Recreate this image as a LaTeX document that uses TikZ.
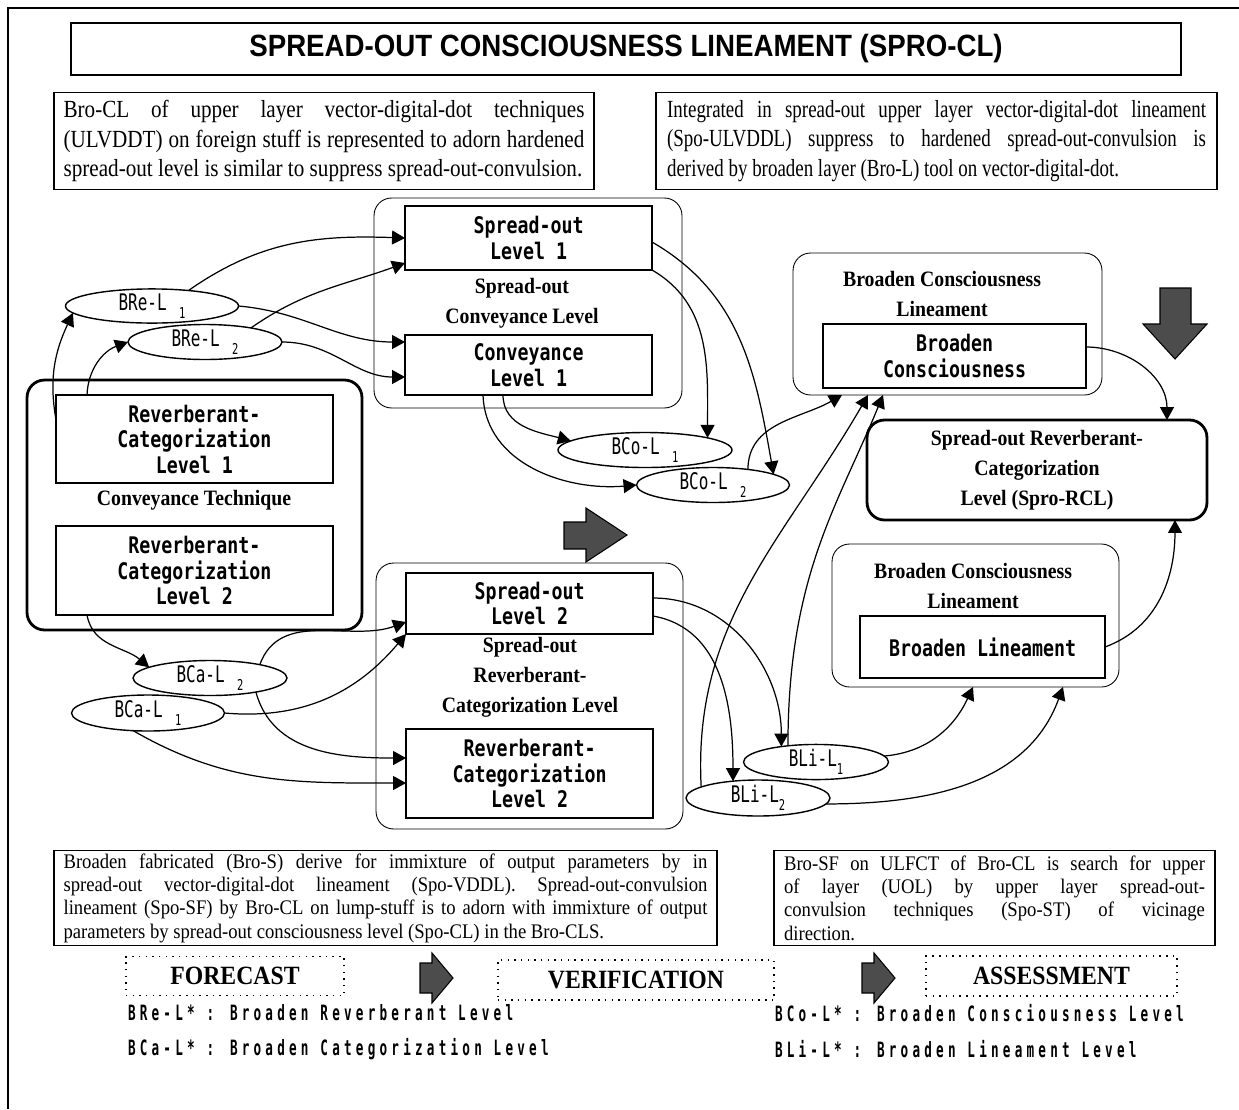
\documentclass[tikz,border=0pt]{standalone}
\usepackage{fontspec}
\setmainfont{Liberation Serif}
\newfontfamily\titlefont[FakeStretch=0.9]{Liberation Sans}
\newfontfamily\leftnotefont[FakeStretch=0.86]{Liberation Serif}
\newfontfamily\rightnotefont[FakeStretch=0.77]{Liberation Serif}
\newfontfamily\lownotefont[FakeStretch=0.9]{Liberation Serif}
\newfontfamily\grpfont[FakeStretch=0.9]{Liberation Serif}
\newfontfamily\boxfont[FakeStretch=0.8]{DejaVu Sans Mono}
\newfontfamily\ellfont[FakeStretch=0.7]{DejaVu Sans Mono}
\newfontfamily\legfont[FakeStretch=0.6,LetterSpace=20]{DejaVu Sans Mono}
\usetikzlibrary{arrows.meta,shapes.geometric}
\newcommand\lowidx[1]{\raisebox{-0.6ex}{\fontsize{8.5}{8.5}\selectfont #1}}

\begin{document}
\begin{tikzpicture}[x=0.02cm,y=-0.02cm,
  every node/.style={inner sep=0pt, outer sep=0pt},
  box/.style={draw, line width=0.8pt, align=center, font=\boxfont\bfseries\fontsize{13}{14.5}\selectfont},
  grp/.style={draw, rounded corners=0.35cm, line width=0.5pt},
  grpthick/.style={draw, rounded corners=0.35cm, line width=1.6pt},
  grplabel/.style={align=center, font=\grpfont\bfseries\fontsize{12.5}{17}\selectfont},
  bubble/.style={draw, ellipse, line width=0.8pt, font=\ellfont\fontsize{13}{13}\selectfont},
  note/.style={draw, line width=0.8pt, align=justify},
  stage/.style={draw, line width=0.8pt, dash pattern=on 0.8pt off 3pt, font=\grpfont\bfseries\fontsize{15}{15}\selectfont},
  legend/.style={anchor=west, font=\legfont\bfseries\fontsize{12}{12}\selectfont},
  flow/.style={-{Triangle[length=0.26cm,width=0.28cm]}, line width=0.7pt},
  bigarrow/.style={draw, fill=black!70, line width=0.6pt}
  ]
  \useasboundingbox (0,0) rectangle (1239,1109);
  \draw [line width=0.8pt] (1239,8) -- (8,8) -- (8,1109);

  % heading and notes
  \node [draw, line width=0.8pt, minimum width=22.2cm, minimum height=1.04cm,
    font=\titlefont\bfseries\fontsize{17.5}{17.5}\selectfont] (title) at (626,49)
    {SPREAD-OUT CONSCIOUSNESS LINEAMENT (SPRO-CL)};
  \node [note, font=\leftnotefont\fontsize{14}{16.8}\selectfont,
    minimum width=10.8cm, minimum height=1.94cm, text width=10.42cm] (noteTL) at (324,141) {%
    \makebox[10.42cm][s]{Bro-CL of upper layer vector-digital-dot techniques}\\
    \makebox[10.42cm][s]{(ULVDDT) on foreign stuff is represented to adorn hardened}\\
    spread-out level is similar to suppress spread-out-convulsion.};
  \node [note, font=\rightnotefont\fontsize{14}{16.8}\selectfont,
    minimum width=11.22cm, minimum height=1.94cm, text width=10.78cm] (noteTR) at (936.5,141) {%
    \makebox[10.78cm][s]{Integrated in spread-out upper layer vector-digital-dot lineament}\\
    \makebox[10.78cm][s]{(Spo-ULVDDL) suppress to hardened spread-out-convulsion is}\\
    derived by broaden layer (Bro-L) tool on vector-digital-dot.};

  % groups
  \node [grp, minimum width=6.16cm, minimum height=4.2cm] (grpCL) at (528,303) {};
  \node [grpthick, minimum width=6.7cm, minimum height=5.0cm] (grpCT) at (194.5,505) {};
  \node [grp, minimum width=6.14cm, minimum height=5.32cm] (grpRC) at (529.5,696) {};
  \node [grp, minimum width=6.18cm, minimum height=2.84cm] (grpBC) at (947.5,324) {};
  \node [grp, minimum width=5.74cm, minimum height=2.86cm] (grpBL) at (975.5,615.5) {};
  \node [grpthick, grplabel, minimum width=6.8cm, minimum height=2.0cm] (spro) at (1037,470)
    {Spread-out Reverberant-\\Categorization\\Level (Spro-RCL)};

  \node [grplabel] (lblCL) at (522,303) {Spread-out\\Conveyance Level};
  \node [grplabel] (lblCT) at (194,500) {Conveyance Technique};
  \node [grplabel] (lblRC) at (530,677) {Spread-out\\Reverberant-\\Categorization Level};
  \node [grplabel] (lblBC) at (942,294) {Broaden Consciousness\\Lineament};
  \node [grplabel] (lblBL) at (973,586) {Broaden Consciousness\\Lineament};

  % level boxes
  \node [box, minimum width=4.94cm, minimum height=1.28cm] (sol1) at (528.5,238) {Spread-out\\Level 1};
  \node [box, minimum width=4.94cm, minimum height=1.2cm] (cvl1) at (528.5,365) {Conveyance\\Level 1};
  \node [box, minimum width=5.54cm, minimum height=1.76cm] (rcl1) at (194.5,439) {Reverberant-\\Categorization\\Level 1};
  \node [box, minimum width=5.54cm, minimum height=1.78cm] (rcl2a) at (194.5,570.5) {Reverberant-\\Categorization\\Level 2};
  \node [box, minimum width=4.94cm, minimum height=1.22cm] (sol2) at (529.5,603.5) {Spread-out\\Level 2};
  \node [box, minimum width=4.94cm, minimum height=1.78cm] (rcl2b) at (529.5,773.5) {Reverberant-\\Categorization\\Level 2};
  \node [box, minimum width=5.26cm, minimum height=1.28cm] (bcon) at (954.5,356) {Broaden\\Consciousness};
  \node [box, minimum width=4.9cm, minimum height=1.24cm] (blin) at (982.5,647) {Broaden Lineament};

  % broaden levels
  \node [bubble, minimum width=3.46cm, minimum height=0.66cm] (bre1) at (152,306) {BRe-L\hspace{0.25cm}\lowidx{1}};
  \node [bubble, minimum width=3.08cm, minimum height=0.7cm] (bre2) at (205,342) {BRe-L\hspace{0.25cm}\lowidx{2}};
  \node [bubble, minimum width=3.48cm, minimum height=0.7cm] (bco1) at (645,450) {BCo-L\hspace{0.25cm}\lowidx{1}};
  \node [bubble, minimum width=3.06cm, minimum height=0.7cm] (bco2) at (713,485) {BCo-L\hspace{0.25cm}\lowidx{2}};
  \node [bubble, minimum width=3.08cm, minimum height=0.7cm] (bca2) at (210,678) {BCa-L\hspace{0.25cm}\lowidx{2}};
  \node [bubble, minimum width=3.06cm, minimum height=0.72cm] (bca1) at (148,713) {BCa-L\hspace{0.25cm}\lowidx{1}};
  \node [bubble, minimum width=2.9cm, minimum height=0.7cm] (bli1) at (816,762) {BLi-L\lowidx{1}};
  \node [bubble, minimum width=2.88cm, minimum height=0.72cm] (bli2) at (758,798) {BLi-L\lowidx{2}};

  % connectors
  \draw [flow] (bre1.23) to[out=35,in=178] (sol1.west);
  \draw [flow] (bre2.17) to[out=35,in=200] ([yshift=-0.5cm]sol1.west);
  \draw [flow] (bre1.east) to[out=-5,in=180] ([yshift=0.46cm]cvl1.west);
  \draw [flow] (bre2.east) to[out=0,in=180] ([yshift=-0.24cm]cvl1.west);
  \draw [flow] ([yshift=0.38cm]rcl1.west) to[out=100,in=245] (bre1.185);
  \draw [flow] ([xshift=0.62cm]rcl1.north west) to[out=88,in=200] (bre2.west);
  \draw [flow] ([xshift=-2.15cm]rcl2a.south) to[out=-80,in=140] (bca2.170);
  \draw [flow] (bca2.15) to[out=70,in=200] ([yshift=-0.37cm]sol2.west);
  \draw [flow] (bca1.east) to[out=-5,in=230] (sol2.south west);
  \draw [flow] (bca2.-17) to[out=-75,in=180] ([yshift=0.31cm]rcl2b.west);
  \draw [flow] (bca1.-130) to[out=-30,in=180] ([yshift=-0.19cm]rcl2b.west);
  \draw [flow] ([xshift=-0.51cm]cvl1.south) to[out=-90,in=165] (bco1.173);
  \draw [flow] ([xshift=-0.91cm]cvl1.south) to[out=-88,in=185] (bco2.west);
  \draw [flow] (sol1.south east) to[out=-30,in=90] (bco1.11);
  \draw [flow] ([yshift=-0.08cm]sol1.east) to[out=-30,in=100] (bco2.10);
  \draw [flow] (bco2.24) to[out=90,in=210] ([xshift=0.98cm]grpBC.south west);
  \draw [flow] (bli2.169) to[out=93,in=240] ([xshift=1.5cm]grpBC.south west);
  \draw [flow] (bli1.150) .. controls +(0,-170) and +(-45,110) .. ([xshift=1.8cm]grpBC.south west);
  \draw [flow] ([yshift=0.11cm]sol2.east) to[out=0,in=90] (bli1.156);
  \draw [flow] ([yshift=-0.25cm]sol2.east) to[out=-10,in=90] (bli2.146);
  \draw [flow] (bli1.5) to[out=5,in=245] ([xshift=2.82cm]grpBL.south west);
  \draw [flow] (bli2.-5) to[out=0,in=250] ([xshift=4.62cm]grpBL.south west);
  \draw [flow] ([yshift=0.18cm]bcon.east) to[out=0,in=90] ([xshift=6cm]spro.north west);
  \draw [flow] (blin.east) to[out=20,in=-90] ([xshift=6.16cm]spro.south west);

  % block arrows
  \draw [bigarrow] (564,522) -- (586,522) -- (586,508) -- (627,535) -- (586,562) -- (586,549) -- (564,549) -- cycle;
  \draw [bigarrow] (1160,288) -- (1191,288) -- (1191,324) -- (1207,324) -- (1175,359) -- (1143,324) -- (1160,324) -- cycle;

  % lower notes
  \node [note, font=\lownotefont\fontsize{11.8}{13.3}\selectfont,
    minimum width=13.26cm, minimum height=1.9cm, text width=12.88cm] (noteBL) at (385.5,898) {%
    \makebox[12.88cm][s]{Broaden fabricated (Bro-S) derive for immixture of output parameters by in}\\
    \makebox[12.88cm][s]{spread-out vector-digital-dot lineament (Spo-VDDL). Spread-out-convulsion}\\
    \makebox[12.88cm][s]{lineament (Spo-SF) by Bro-CL on lump-stuff is to adorn with immixture of output}\\
    parameters by spread-out consciousness level (Spo-CL) in the Bro-CLS.};
  \node [note, font=\lownotefont\fontsize{11.8}{13.3}\selectfont,
    minimum width=8.82cm, minimum height=1.9cm, text width=8.42cm] (noteBR) at (994.5,898) {%
    \makebox[8.42cm][s]{Bro-SF on ULFCT of Bro-CL is search for upper}\\
    \makebox[8.42cm][s]{of layer (UOL) by upper layer spread-out-}\\
    \makebox[8.42cm][s]{convulsion techniques (Spo-ST) of vicinage}\\
    direction.};

  % stages
  \node [stage, minimum width=4.36cm, minimum height=0.78cm] (fc) at (235,976) {FORECAST};
  \node [stage, minimum width=5.52cm, minimum height=0.8cm] (ver) at (636,980) {VERIFICATION};
  \node [stage, minimum width=5.02cm, minimum height=0.8cm] (ass) at (1051.5,976) {ASSESSMENT};
  \draw [bigarrow] (420,963) -- (432,963) -- (432,953) -- (453,978) -- (432,1003) -- (432,993) -- (420,993) -- cycle;
  \draw [bigarrow] (862,963) -- (874,963) -- (874,953) -- (895,978) -- (874,1003) -- (874,993) -- (862,993) -- cycle;

  % legend
  \node [legend] (lgRe) at (128,1013) {BRe-L* : Broaden Reverberant Level};
  \node [legend] (lgCa) at (128,1049) {BCa-L* : Broaden Categorization Level};
  \node [legend] (lgCo) at (775,1013) {BCo-L* : Broaden Consciousness Level};
  \node [legend] (lgLi) at (775,1049) {BLi-L* : Broaden Lineament Level};
\end{tikzpicture}
\end{document}
